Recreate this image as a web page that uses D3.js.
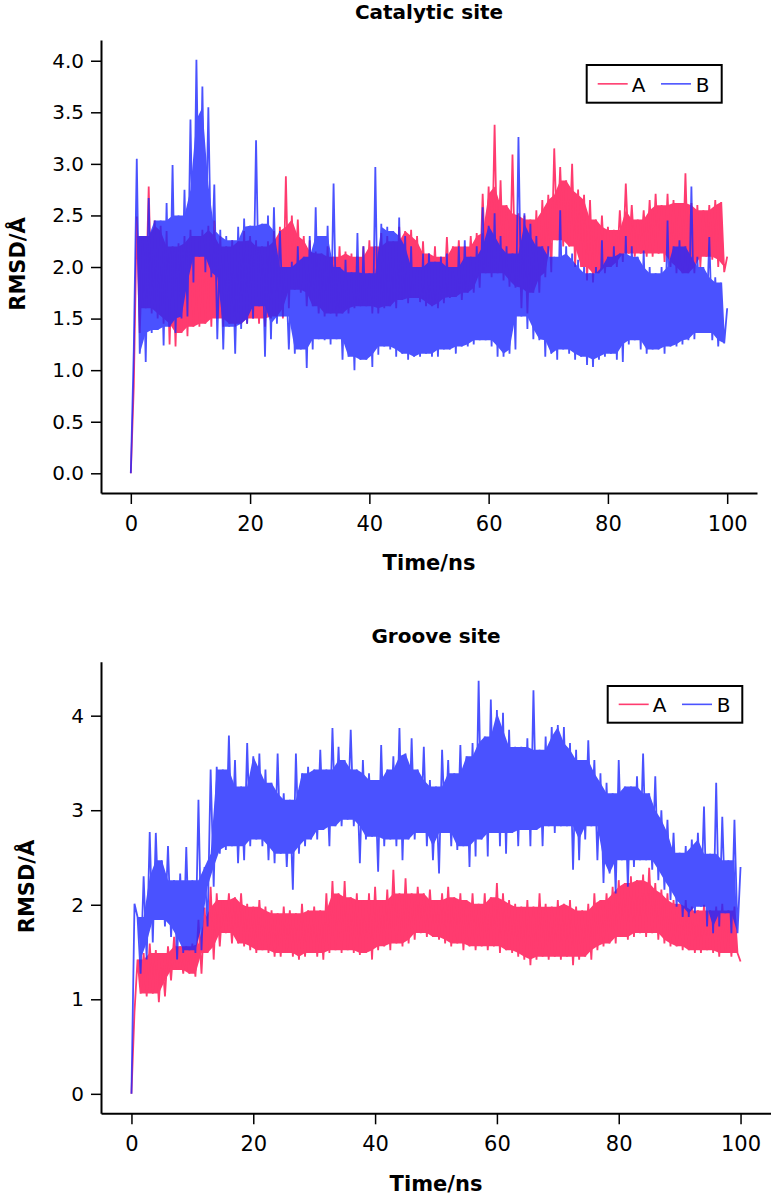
<!DOCTYPE html>
<html><head><meta charset="utf-8">
<script src="https://cdn.jsdelivr.net/npm/d3@7/dist/d3.min.js"></script>
<style>
html,body{margin:0;padding:0;background:#fff;}
svg{display:block;}
text{font-family:"DejaVu Sans",sans-serif;fill:#000;}
</style></head><body>
<svg id="chart" width="771" height="1198"></svg>
<script>
// ---------------- data ----------------
const seriesNames = ["A", "B"];
const panelTitles = ["Catalytic site", "Groove site"];
const xLabel = "Time/ns";
const yLabel = "RMSD/Å";
const xTicks = [0, 20, 40, 60, 80, 100];
const yTicksCatalytic = [0, 0.5, 1.0, 1.5, 2.0, 2.5, 3.0, 3.5, 4.0];
const yTicksGroove = [0, 1, 2, 3, 4];
const timeStepNs = 0.5; // samples every 0.5 ns, 0..100 ns

// Catalytic site, A (RMSD, Å)
const catalyticA = [0.0,0.85,
2.49,1.36, 2.3,1.6, 2.78,1.55, 2.45,1.5, 2.4,1.45, 2.35,1.25, 2.2,1.23, 2.23,1.36, 2.3,1.33, 2.36,1.42,
2.3,1.42, 2.36,1.45, 2.4,1.42, 2.45,1.5, 2.3,1.42, 2.2,1.45, 2.26,1.42, 2.25,1.45, 2.35,1.45, 2.3,1.5,
2.26,1.45, 2.2,1.42, 2.25,1.5, 2.35,1.52, 2.39,1.5, 2.88,1.6, 2.5,1.78, 2.46,1.75, 2.3,1.62, 2.26,1.62,
2.15,1.55, 2.13,1.52, 2.2,1.55, 2.1,1.52, 2.2,1.55, 2.15,1.55, 2.13,1.6, 2.1,1.62, 2.2,1.62, 2.26,1.55,
2.2,1.55, 2.33,1.6, 2.3,1.62, 2.25,1.6, 2.39,1.68, 2.35,1.65, 2.36,1.7, 2.3,1.66, 2.25,1.62, 2.13,1.62,
2.2,1.6, 2.1,1.65, 2.29,1.7, 2.2,1.71, 2.26,1.68, 2.2,1.75, 2.3,1.75, 2.33,1.8, 2.71,1.94, 2.78,1.9,
3.38,1.94, 2.84,1.87, 2.6,1.81, 3.09,1.8, 2.52,1.6, 2.5,1.55, 2.46,1.75, 2.55,1.75, 2.65,1.9, 2.7,1.95,
3.15,2.26, 2.97,2.2, 2.84,2.2, 3.0,2.0, 2.75,2.0, 2.7,1.87, 2.65,1.85, 2.46,1.94, 2.5,1.94, 2.39,2.0,
2.36,2.0, 2.55,2.05, 2.81,2.13, 2.6,2.1, 2.46,2.13, 2.55,2.1, 2.65,2.1, 2.71,2.13, 2.6,2.05, 2.71,2.0,
2.65,1.94, 2.62,1.94, 2.91,1.94, 2.62,1.94, 2.6,2.0, 2.55,2.1, 2.6,2.07, 2.65,2.0, 2.63,1.95,
2.1];

// Catalytic site, B
const catalyticB = [0.0,1.2,
3.05,1.16, 2.3,1.08, 2.67,1.36, 2.45,1.39, 2.45,1.24, 2.62,1.42, 2.99,1.36, 2.5,1.5, 2.75,1.52, 3.43,1.85,
4.01,2.1, 3.75,1.95, 3.55,1.9, 2.8,1.3, 2.36,1.2, 2.3,1.42, 2.26,1.16, 2.39,1.4, 2.47,1.45, 2.4,1.5,
3.23,1.62, 2.42,1.13, 2.5,1.3, 2.58,1.45, 2.35,1.52, 2.0,1.2, 2.05,1.16, 2.2,1.2, 2.1,1.02, 2.3,1.2,
2.58,1.3, 2.3,1.29, 2.4,1.25, 2.81,1.3, 2.0,1.1, 2.07,1.13, 1.95,1.0, 2.33,1.1, 2.2,1.1, 1.94,1.03,
2.97,1.15, 2.42,1.23, 2.39,1.2, 2.35,1.13, 2.48,1.16, 2.3,1.1, 2.2,1.13, 2.0,1.13, 2.13,1.16, 2.13,1.13,
2.05,1.13, 2.1,1.2, 2.13,1.2, 2.0,1.16, 2.2,1.23, 2.26,1.23, 2.1,1.25, 2.2,1.29, 2.58,1.29, 2.4,1.23,
2.52,1.13, 2.3,1.13, 2.2,1.16, 2.13,1.2, 3.26,1.52, 2.52,1.4, 2.42,1.3, 2.3,1.29, 2.2,1.13, 2.2,1.16,
2.1,1.1, 2.55,1.2, 2.2,1.16, 2.13,1.1, 2.07,1.13, 2.0,1.05, 1.94,1.03, 2.0,1.1, 2.26,1.13, 2.1,1.16,
2.2,1.1, 2.13,1.08, 2.3,1.25, 2.2,1.29, 2.1,1.2, 2.16,1.16, 2.0,1.2, 1.94,1.2, 2.0,1.16, 2.45,1.23,
2.2,1.23, 2.26,1.25, 2.2,1.29, 2.78,1.3, 2.1,1.36, 2.0,1.36, 2.29,1.29, 1.9,1.23, 1.85,1.26,
1.6];

// Groove site, A
const grooveA = [0.0,0.87,
1.42,1.06, 1.49,1.03, 1.59,1.06, 1.52,0.97, 1.49,1.03, 1.56,1.2, 1.66,1.31, 1.56,1.27, 1.56,1.27, 1.59,1.24,
1.84,1.27, 1.97,1.49, 2.19,1.42, 2.12,1.56, 2.05,1.7, 2.12,1.59, 2.08,1.59, 2.12,1.56, 2.01,1.52, 1.98,1.49,
2.05,1.52, 1.98,1.49, 1.94,1.45, 1.91,1.45, 1.98,1.49, 1.94,1.45, 1.91,1.42, 2.01,1.45, 1.94,1.49, 1.98,1.45,
1.94,1.42, 2.12,1.49, 2.25,1.52, 2.12,1.49, 2.25,1.52, 2.08,1.49, 2.12,1.47, 2.05,1.49, 2.12,1.42, 2.19,1.52,
2.05,1.56, 2.16,1.52, 2.37,1.59, 2.12,1.56, 2.28,1.59, 2.12,1.63, 2.19,1.7, 2.12,1.66, 2.16,1.66, 2.05,1.63,
2.12,1.59, 2.19,1.56, 2.08,1.59, 2.12,1.52, 2.05,1.56, 2.12,1.52, 2.01,1.56, 2.12,1.52, 2.08,1.56, 2.23,1.49,
2.12,1.52, 2.05,1.49, 2.01,1.45, 1.98,1.42, 2.05,1.36, 1.98,1.42, 2.12,1.45, 2.01,1.42, 1.98,1.45, 2.05,1.42,
2.01,1.45, 2.05,1.36, 1.98,1.42, 1.94,1.45, 2.01,1.42, 2.12,1.52, 2.05,1.56, 2.12,1.59, 2.19,1.59, 2.26,1.66,
2.23,1.63, 2.3,1.66, 2.26,1.7, 2.32,1.66, 2.39,1.7, 2.23,1.63, 2.16,1.59, 2.12,1.56, 2.05,1.56, 2.01,1.52,
2.05,1.52, 1.98,1.49, 1.94,1.49, 2.0,1.52, 1.94,1.49, 1.98,1.45, 2.01,1.49, 1.94,1.45, 1.98,1.49,
1.4];

// Groove site, B
const grooveB = [0.0,2.01,
1.87,1.27, 2.3,1.42, 2.77,1.6, 2.76,1.84, 2.47,1.77, 2.62,1.66, 2.26,1.42, 2.33,1.49, 2.61,1.52, 2.26,1.49,
3.11,1.52, 2.4,1.77, 3.43,2.19, 3.46,2.54, 3.43,2.58, 3.79,2.62, 3.53,2.44, 3.25,2.47, 3.71,2.62, 3.57,2.69,
3.6,2.62, 3.43,2.47, 3.29,2.44, 3.6,2.54, 3.18,2.4, 3.11,2.16, 3.6,2.54, 3.39,2.62, 3.46,2.69, 3.43,2.69,
3.64,2.79, 3.43,2.62, 3.87,2.83, 3.67,2.83, 3.53,2.9, 3.85,2.83, 3.43,2.44, 3.53,2.69, 3.39,2.72, 3.32,2.35,
3.69,2.62, 3.43,2.69, 3.57,2.62, 3.87,2.47, 3.6,2.69, 3.76,2.69, 3.43,2.76, 3.67,2.62, 3.32,2.47, 3.25,2.33,
3.64,2.76, 3.53,2.62, 3.39,2.58, 3.69,2.62, 3.57,2.4, 3.71,2.51, 4.37,2.69, 3.78,2.51, 4.17,2.76, 4.06,2.62,
4.03,2.54, 3.85,2.76, 3.67,2.62, 3.67,2.79, 3.76,2.62, 4.27,2.79, 3.64,2.62, 3.78,2.83, 3.88,2.76, 3.9,2.83,
3.88,2.83, 3.71,2.37, 3.64,2.47, 3.53,2.69, 3.74,2.83, 3.53,2.47, 3.39,2.23, 3.29,2.33, 3.18,2.12, 3.53,2.47,
3.25,2.19, 3.25,2.4, 3.36,2.47, 3.6,2.47, 3.18,2.37, 3.36,2.26, 3.0,2.16, 2.9,2.05, 2.76,1.98, 2.55,1.87,
2.62,1.87, 2.69,1.91, 2.76,1.98, 3.04,1.77, 2.54,1.7, 3.29,1.77, 2.93,1.91, 2.47,1.7, 2.9,1.7,
2.4];

// ---------------- drawing ----------------
const colorA = "#ff3b6f";
const colorB = "#1e28ff";
const opacityB = 0.8;

const svg = d3.select("#chart");

const panels = [
  { title: panelTitles[0], a: catalyticA, b: catalyticB, yTicks: yTicksCatalytic, fmt: d3.format(".1f"),
    yDomain: [-0.191, 4.201], yRange: [493, 40], xRange: [101, 757],
    titleX: 429, titleY: 19, ylabX: 24.5, ylabY: 264, xlabY: 570,
    legend: { x: 586.7, y: 65, w: 135, h: 37.7 } },
  { title: panelTitles[1], a: grooveA, b: grooveB, yTicks: yTicksGroove, fmt: d3.format("d"),
    yDomain: [-0.206, 4.571], yRange: [1113.3, 661.7], xRange: [101, 771],
    titleX: 436, titleY: 643, ylabX: 33.5, ylabY: 886.5, xlabY: 1191,
    legend: { x: 607.7, y: 686, w: 134.6, h: 36.7 } }
];

// core band of a series: the smallest of neighbouring highs and the largest
// of neighbouring lows (samples from index 2 alternate high / low)
function coreBand(vals) {
  const band = [];
  const first = 2, last = vals.length - 2;
  const at = (j, fallback) => (j >= first && j <= last ? vals[j] : fallback);
  for (let i = first; i + 1 < vals.length; i += 2) {
    const h = vals[i], l = vals[i + 1];
    const hi = Math.min(h, at(i - 2, h), at(i + 2, h));
    const lo = Math.max(l, at(i - 1, l), at(i + 3, l));
    band.push({ tHi: i * timeStepNs, hi: Math.max(hi, lo),
                tLo: (i + 1) * timeStepNs, lo: Math.min(lo, hi) });
  }
  return band;
}

panels.forEach(p => {
  const x = d3.scaleLinear().domain([-5, 105]).range(p.xRange);
  const y = d3.scaleLinear().domain(p.yDomain).range(p.yRange);
  const g = svg.append("g");

  const line = d3.line()
    .x((d, i) => x(i * timeStepNs))
    .y(d => y(d));
  const area = d3.area()
    .x1(d => x(d.tHi)).y1(d => y(d.hi))
    .x0(d => x(d.tLo)).y0(d => y(d.lo));

  [[p.a, colorA, 1], [p.b, colorB, opacityB]].forEach(([vals, col, op]) => {
    const sg = g.append("g").attr("opacity", op);
    sg.append("path").datum(coreBand(vals))
      .attr("d", area).attr("fill", col).attr("stroke", "none");
    sg.append("path").datum(vals)
      .attr("d", line).attr("fill", "none")
      .attr("stroke", col).attr("stroke-width", 1.8)
      .attr("stroke-linejoin", "bevel");
  });

  // y axis
  const ya = g.append("g").attr("transform", `translate(${p.xRange[0]},0)`)
    .call(d3.axisLeft(y).tickValues(p.yTicks).tickFormat(p.fmt)
      .tickSize(10).tickSizeOuter(0).tickPadding(7));
  ya.select(".domain").attr("stroke", "#000").attr("stroke-width", 2);
  ya.selectAll(".tick line").attr("stroke", "#000").attr("stroke-width", 1.5);
  ya.selectAll(".tick text").attr("font-size", 20).attr("font-family", "DejaVu Sans");

  // x axis
  const xa = g.append("g").attr("transform", `translate(0,${p.yRange[0]})`)
    .call(d3.axisBottom(x).tickValues(xTicks).tickFormat(d3.format("d"))
      .tickSize(11).tickSizeOuter(0).tickPadding(12));
  xa.select(".domain").attr("stroke", "#000").attr("stroke-width", 2);
  xa.selectAll(".tick line").attr("stroke", "#000").attr("stroke-width", 1.5);
  xa.selectAll(".tick text").attr("font-size", 21).attr("font-family", "DejaVu Sans");

  // titles
  g.append("text").attr("x", p.titleX).attr("y", p.titleY)
    .attr("text-anchor", "middle").attr("font-weight", "bold").attr("font-size", 20)
    .text(p.title);
  g.append("text").attr("x", p.titleX).attr("y", p.xlabY)
    .attr("text-anchor", "middle").attr("font-weight", "bold").attr("font-size", 21)
    .text(xLabel);
  g.append("text")
    .attr("transform", `translate(${p.ylabX},${p.ylabY}) rotate(-90)`)
    .attr("text-anchor", "middle").attr("font-weight", "bold").attr("font-size", 21)
    .text(yLabel);

  // legend
  const L = p.legend;
  const lg = g.append("g").attr("transform", `translate(${L.x},${L.y})`);
  lg.append("rect").attr("width", L.w).attr("height", L.h)
    .attr("fill", "#fff").attr("stroke", "#000").attr("stroke-width", 2);
  const items = [
    { name: seriesNames[0], color: colorA, op: 1, lx: 11, tx: 45 },
    { name: seriesNames[1], color: colorB, op: opacityB, lx: 74.3, tx: 109 }
  ];
  items.forEach(it => {
    lg.append("line").attr("x1", it.lx).attr("x2", it.lx + 30)
      .attr("y1", L.h / 2).attr("y2", L.h / 2)
      .attr("stroke", it.color).attr("stroke-opacity", it.op).attr("stroke-width", 1.6);
    lg.append("text").attr("x", it.tx).attr("y", L.h / 2 + 8)
      .attr("font-size", 20).text(it.name);
  });
});
</script>
</body></html>
